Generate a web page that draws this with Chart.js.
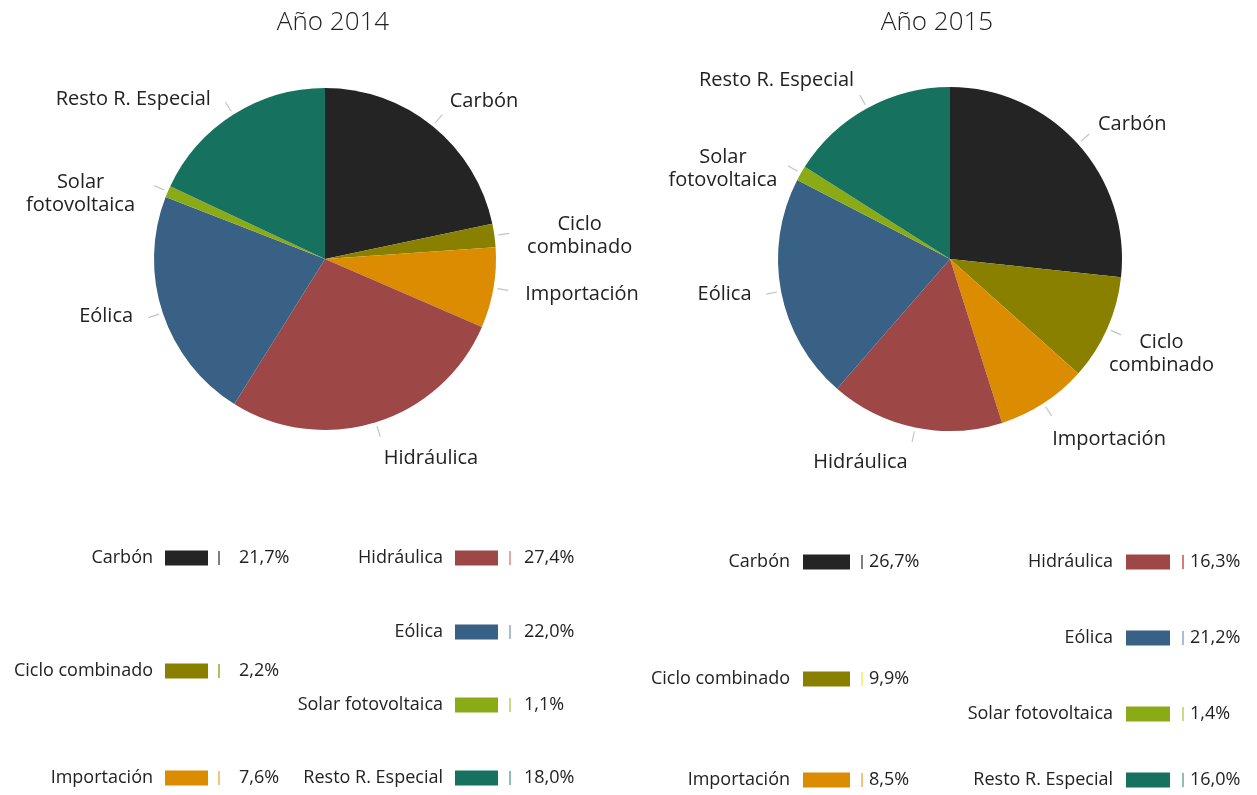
<!DOCTYPE html>
<html>
<head>
<meta charset="utf-8">
<script src="https://cdn.jsdelivr.net/npm/chart.js@4.4.1/dist/chart.umd.min.js"></script>
<style>
  html, body { margin: 0; padding: 0; background: #ffffff; }
  #wrap { position: relative; width: 1257px; height: 795px; overflow: hidden; }
  canvas { position: absolute; top: 0; }
  #c2014 { left: 0; }
  #c2015 { left: 628px; }
</style>
</head>
<body>
<div id="wrap">
  <canvas id="c2014" width="700" height="795"></canvas>
  <canvas id="c2015" width="629" height="795"></canvas>
</div>
<script>
// ---- DATA ----
const categories = ['Carbón', 'Ciclo combinado', 'Importación', 'Hidráulica', 'Eólica', 'Solar fotovoltaica', 'Resto R. Especial'];
const pieLabelLines = [['Carbón'], ['Ciclo', 'combinado'], ['Importación'], ['Hidráulica'], ['Eólica'], ['Solar', 'fotovoltaica'], ['Resto R. Especial']];
const values2014 = [21.7, 2.2, 7.6, 27.4, 22.0, 1.1, 18.0];
const values2015 = [26.7, 9.9, 8.5, 16.3, 21.2, 1.4, 16.0];
const yearTitles = ['Año 2014', 'Año 2015'];

// ---- STYLE ----
const sliceColors = ['#242424', '#8a8000', '#db8c00', '#9e4747', '#386185', '#8aab16', '#16725f'];
const FONT = '"Open Sans", "DejaVu Sans", sans-serif';

function fmt(v) { return v.toFixed(1).replace('.', ',') + '%'; }

const annotPlugin = {
  id: 'annot',
  afterDraw(chart, args, opts) {
    const ctx = chart.ctx;
    const meta = chart.getDatasetMeta(0);
    const vals = chart.data.datasets[0].data;
    ctx.save();
    // title
    ctx.fillStyle = '#222';
    ctx.font = '300 26px ' + FONT;
    ctx.textAlign = 'center';
    ctx.textBaseline = 'middle';
    ctx.fillText(opts.title, opts.titleX, opts.titleY);

    // leaders + labels
    ctx.font = '500 20px ' + FONT;
    meta.data.forEach((arc, i) => {
      const mid = (arc.startAngle + arc.endAngle) / 2;
      const dx = Math.cos(mid), dy = Math.sin(mid);
      const r = arc.outerRadius;
      ctx.strokeStyle = '#c4c4c4';
      ctx.lineWidth = 1.2;
      ctx.beginPath();
      ctx.moveTo(arc.x + dx * (r + 4), arc.y + dy * (r + 4));
      ctx.lineTo(arc.x + dx * (r + 15), arc.y + dy * (r + 15));
      ctx.stroke();
      const lines = pieLabelLines[i];
      const px = arc.x + dx * (r + 27) + (opts.labelDx[i] || 0);
      const py = arc.y + dy * (r + 27) + (opts.labelDy[i] || 0);
      const w = Math.max(...lines.map(l => ctx.measureText(l).width));
      const lh = 23;
      const left = dx >= 0 ? px : px - w;
      const top = py - (lines.length * lh) / 2;
      ctx.fillStyle = '#222';
      ctx.textAlign = 'center';
      ctx.textBaseline = 'middle';
      lines.forEach((l, k) => {
        ctx.fillText(l, left + w / 2, top + lh * k + lh / 2);
      });
    });

    // legend
    ctx.font = '500 18px ' + FONT;
    ctx.textBaseline = 'middle';
    opts.legendRows.forEach((row, i) => {
      const col = opts.legendCols[row.col];
      const y = row.y;
      ctx.fillStyle = '#222';
      ctx.textAlign = 'right';
      ctx.fillText(categories[i], col.labelRight, y);
      ctx.fillStyle = sliceColors[i];
      ctx.fillRect(col.swX, y - 7.5, col.swW, 15);
      ctx.strokeStyle = opts.tickColors[i];
      ctx.lineWidth = 1.5;
      ctx.beginPath();
      ctx.moveTo(col.tickX, y - 7);
      ctx.lineTo(col.tickX, y + 7);
      ctx.stroke();
      ctx.fillStyle = '#222';
      ctx.textAlign = 'left';
      ctx.fillText(fmt(vals[i]), col.valX, y);
    });
    ctx.restore();
  }
};

function makeChart(id, values, padding, annot) {
  return new Chart(document.getElementById(id), {
    type: 'pie',
    data: {
      labels: categories,
      datasets: [{ data: values, backgroundColor: sliceColors, borderWidth: 0 }]
    },
    options: {
      responsive: false,
      animation: false,
      layout: { padding: padding },
      plugins: {
        legend: { display: false },
        tooltip: { enabled: false },
        annot: annot
      }
    },
    plugins: [annotPlugin]
  });
}

makeChart('c2014', values2014, { left: 154, right: 204, top: 88, bottom: 365 }, {
  title: yearTitles[0], titleX: 333, titleY: 23,
  labelDx: [0, 6, 5, 0, -4, -8, -8],
  labelDy: [-4, 4, 2, 10, -5, 13, 7],
  legendCols: [
    { labelRight: 153, swX: 165, swW: 43, tickX: 219, valX: 239 },
    { labelRight: 443, swX: 455, swW: 43, tickX: 510, valX: 524 }
  ],
  legendRows: [
    { col: 0, y: 558 }, { col: 0, y: 671 }, { col: 0, y: 778 },
    { col: 1, y: 558 }, { col: 1, y: 632 }, { col: 1, y: 705 }, { col: 1, y: 778 }
  ],
  tickColors: ['#555555', '#a89f2a', '#f0b050', '#d98a8a', '#8aa8c6', '#b8d060', '#6aa89a']
});

makeChart('c2015', values2015, { left: 150, right: 135, top: 87, bottom: 364 }, {
  title: yearTitles[1], titleX: 309, titleY: 23,
  labelDx: [0, -23, -6, -2, -3, 0, 0],
  labelDy: [-2, 14, 13, 8, -2, 9, -4],
  legendCols: [
    { labelRight: 162, swX: 175, swW: 47, tickX: 234, valX: 241 },
    { labelRight: 485, swX: 498, swW: 44, tickX: 555, valX: 562 }
  ],
  legendRows: [
    { col: 0, y: 562 }, { col: 0, y: 679 }, { col: 0, y: 780 },
    { col: 1, y: 562 }, { col: 1, y: 638 }, { col: 1, y: 714 }, { col: 1, y: 780 }
  ],
  tickColors: ['#555555', '#e8f060', '#f0b050', '#c85050', '#8aa8c6', '#b8d060', '#6aa89a']
});
</script>
</body>
</html>
